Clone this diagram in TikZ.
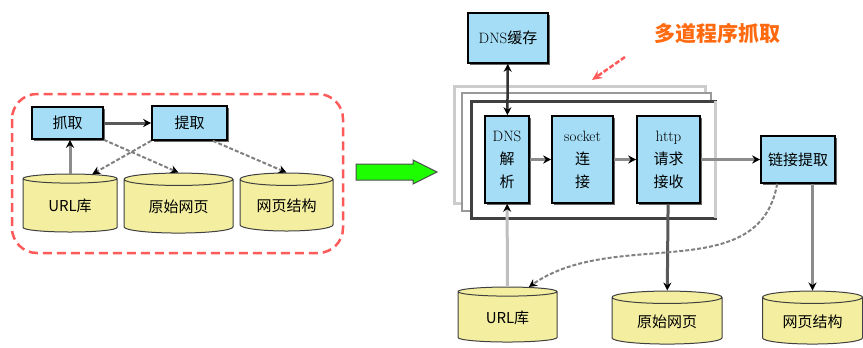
\documentclass[tikz,border=0pt]{standalone}
\usepackage{fontspec}
\newfontfamily\cjk{Noto Sans CJK SC}
\usetikzlibrary{arrows.meta,shapes.geometric,shadows,calc}
\definecolor{boxblue}{HTML}{A4DDF5}
\definecolor{dbyellow}{HTML}{F4EFA0}
\definecolor{tagorange}{HTML}{FF6A10}
\definecolor{ringred}{HTML}{FF5A5A}
\newcommand{\zh}[1]{{\cjk #1}}
\tikzset{
  box/.style={draw=black, line width=1.6pt, fill=boxblue, align=center, inner sep=1pt,
    font=\fontsize{15}{18}\selectfont,
    drop shadow={shadow xshift=1.5pt,shadow yshift=-1.5pt,fill=black!60,opacity=1}},
  tallbox/.style={box, minimum height=87pt, font=\fontsize{15}{23}\selectfont},
  db/.style={cylinder, shape border rotate=90, aspect=0.2, draw=black!75, line width=1pt,
    fill=dbyellow, font=\fontsize{15}{18}\selectfont, inner sep=1pt},
  link/.style={draw=black!45, line width=3pt, -{Stealth[black,length=8pt,width=8pt]}},
  dlink/.style={draw=black!50, line width=2pt, dash pattern=on 4pt off 2pt,
    -{Stealth[black,length=8pt,width=8pt]}},
}
\begin{document}
\begin{tikzpicture}[x=1pt,y=-1pt]
  \useasboundingbox (0,0) rectangle (863,348);
  % left: single-process crawler
  \draw[ringred, line width=2.5pt, dash pattern=on 9pt off 5pt, rounded corners=25pt]
    (12,94) rectangle (343,253);
  \node[box, minimum width=71pt, minimum height=32pt] (fetch) at (67.5,123) {\zh{抓取}};
  \node[box, minimum width=75pt, minimum height=34pt, drop shadow={opacity=0}] (extract) at (189.5,123) {\zh{提取}};
  \node[db, minimum width=94pt, minimum height=58pt] (urlA) at (70,206) {\zh{URL库}};
  \node[db, minimum width=109pt, minimum height=60pt] (rawA) at (178.5,207) {\zh{原始网页}};
  \node[db, minimum width=93pt, minimum height=58pt] (structA) at (286.5,206) {\zh{网页结构}};
  \draw[link, draw=black!65] (fetch) -- (extract);
  \draw[link] (urlA.north -| 70,0) -- (fetch.south -| 70,0);
  \draw[dlink] (fetch.south east) -- (rawA.north);
  \draw[dlink] (extract.south west) -- (urlA.55);
  \draw[dlink] ([xshift=-15pt]extract.south east) -- (structA.north);
  % green arrow
  \draw[fill=green!85!lime, draw=black!70, line width=1pt]
    (356,164) -- (413,164) -- (413,160) -- (437,172) -- (413,184) -- (413,180) -- (356,180) -- cycle;
  % right: multi-process crawler
  \node[box, minimum width=80pt, minimum height=50pt] (cache) at (508,38) {DNS\zh{缓存}};
  \node[text=tagorange, font=\cjk\bfseries\fontsize{21}{23}\selectfont] (tag) at (717,34) {多道程序抓取};
  \draw[ringred, line width=2.5pt, dash pattern=on 5pt off 2pt, -{Stealth[length=10pt,width=9pt]}]
    (625,57) -- (592,80);
  \draw[black!20, line width=3pt, fill=white] (454,86) rectangle (705,203);
  \draw[black!40, line width=2pt, fill=white] (462,93) rectangle (711,211);
  \draw[black!75, line width=3pt, fill=white] (471,101) rectangle (715,218);
  \draw[black!20, line width=3pt] (715,101) -- (715,218);
  \node[tallbox, minimum width=44pt] (resolve) at (507,159.5) {DNS\\\zh{解}\\\zh{析}};
  \node[tallbox, minimum width=61pt] (sock) at (582.5,159.5) {socket\\\zh{连}\\\zh{接}};
  \node[tallbox, minimum width=63pt] (recv) at (668.5,159.5) {http\\\zh{请求}\\\zh{接收}};
  \node[box, minimum width=74pt, minimum height=47pt] (links) at (798,159.5) {\zh{链接提取}};
  \node[db, minimum width=99pt, minimum height=55pt] (urlB) at (507.5,317.5) {\zh{URL库}};
  \node[db, minimum width=110pt, minimum height=53pt] (rawB) at (667,321.5) {\zh{原始网页}};
  \node[db, minimum width=100pt, minimum height=53pt] (structB) at (812.5,321.5) {\zh{网页结构}};
  \draw[draw=black!80, line width=2.5pt, {Stealth[black,length=8pt,width=8pt]}-{Stealth[black,length=8pt,width=8pt]}] (cache) -- (resolve);
  \draw[link, line width=2.5pt] (resolve) -- (sock);
  \draw[link, line width=2.5pt] (sock) -- (recv);
  \draw[link, line width=2.5pt] (recv) -- (links);
  \draw[link, draw=black!25] (urlB) -- (resolve);
  \draw[link, draw=black!65] (recv) -- (rawB);
  \draw[link] (structB.north |- links.south) -- (structB.north);
  \draw[dlink] ([xshift=17pt]links.south west) to[out=260,in=35] (urlB.55);
\end{tikzpicture}
\end{document}
